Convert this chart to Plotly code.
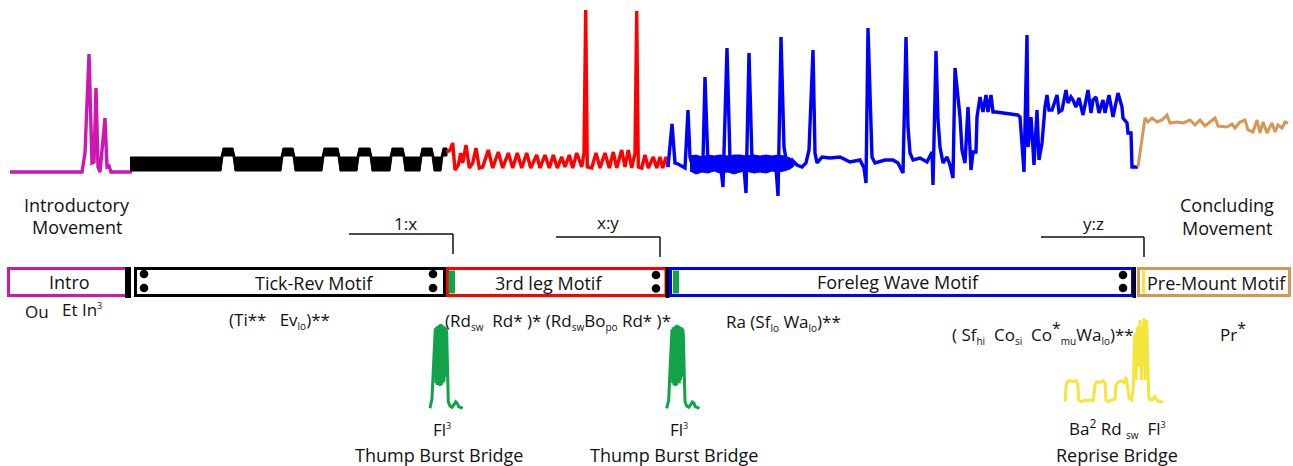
import plotly.graph_objects as go

# ---------------- DATA ----------------
# top recording: time in frames, level in arbitrary units (up = larger)
intro_t = [10, 82, 85, 89, 92, 94, 96, 98, 100, 105, 107, 109, 111, 132]
intro_v = [8, 8, 27, 126, 17, 18, 92, 13, 8, 62, 13, 14, 8, 8]

# Tick-Rev: dense ticking shown as an envelope (upper / lower)
tick_t = [130, 221, 223, 233, 235, 281, 283, 293, 295, 322, 324, 338, 340, 357,
          359, 370, 372, 390, 392, 403, 405, 420, 422, 432, 434, 441, 443, 447]
tick_hi = [23, 23, 32, 32, 23, 23, 32, 32, 23, 23, 32, 32, 23, 23,
           32, 32, 23, 23, 32, 32, 23, 23, 32, 32, 23, 23, 32, 32]
tick_lo = [9, 9, 24, 24, 9, 9, 24, 24, 9, 9, 24, 24, 9, 9,
           24, 24, 9, 9, 24, 24, 9, 9, 24, 24, 9, 9, 24, 24]

leg3_t = [446.7, 450, 452.7, 455, 458.3, 460.7, 462.7, 466, 469.3, 472.7, 476, 479.3,
          482.7, 488.3, 492.7, 498.3, 502.7, 508.3, 512.7, 517.3, 521.7, 526.7, 530.7,
          536.7, 540, 545, 549.3, 553.3, 557.3, 561.7, 565, 569.3, 572.7, 576.7, 581.7,
          584, 585.7, 587.3, 591.7, 596, 600, 605, 609.3, 613.3, 616.7, 621.7, 625,
          628.3, 631.7, 635, 636.7, 638.3, 641.7, 645, 648.3, 653.3, 656.7, 660, 662.7,
          666, 668.3]
leg3_v = [28, 30, 37, 10, 15, 27, 17, 35, 12, 17, 32, 12,
          13, 30, 12, 28, 12, 27, 12, 27, 12, 27, 12,
          25, 12, 25, 12, 25, 12, 23, 13, 25, 12, 27, 13,
          27, 170, 13, 12, 27, 12, 27, 12, 28, 12, 30, 13,
          30, 12, 27, 169, 13, 12, 25, 12, 23, 12, 23, 12,
          23, 13]

fore_t = [668, 672, 675, 678, 685, 688, 690, 693, 697, 700, 703, 705, 708, 712, 716,
          720, 723, 727, 730, 735, 740, 744, 746, 749, 752, 756, 762, 768, 773, 776,
          778, 781, 784, 787, 792, 797, 802, 806, 809, 813, 815, 817, 822, 830, 840,
          850, 860, 864, 866, 868, 872, 875, 885, 893, 898, 903, 906, 908, 910, 913,
          920, 927, 932, 933, 936, 938, 940, 943, 947, 950, 953, 955, 960, 962, 965,
          968, 971, 973, 976, 977, 980, 983, 986, 988, 991, 993, 996, 1005, 1018,
          1020, 1022, 1024, 1027, 1028, 1031, 1034, 1037, 1039, 1042, 1045, 1047,
          1049, 1052, 1057, 1059, 1062, 1066, 1068, 1071, 1073, 1076, 1079, 1083,
          1088, 1091, 1093, 1096, 1099, 1103, 1105, 1109, 1113, 1118, 1122, 1123,
          1127, 1128, 1131, 1132, 1138]
fore_v = [13, 56, 17, 16, 12, 70, 23, 12, 20, 10, 20, 103, 15, 22, 10,
          20, -7, 132, 20, 10, 22, 12, -13, 127, 20, 12, 22, 10, 20, 12,
          -16, 143, 33, 15, 20, 15, 13, 17, 30, 130, 27, 17, 23, 22, 23,
          18, 20, 12, -3, 152, 23, 17, 20, 20, 17, 7, 143, 53, 27, 20,
          22, 18, 28, -5, 129, 60, 33, 17, 23, 15, 2, 112, 63, 30, 17,
          73, 10, 28, 28, 63, 83, 68, 85, 68, 85, 68, 68, 67, 65,
          63, 30, 8, 145, 33, 63, 15, 70, 20, 37, 73, 85,
          70, 70, 85, 68, 70, 90, 77, 83, 80, 73, 82, 65,
          90, 67, 80, 83, 67, 80, 67, 85, 63, 87, 73, 62,
          57, 47, 47, 13, 13]
# dense jitter of the foreleg section, as an envelope
fore_noise_t = [690, 696, 702, 708, 714, 720, 728, 734, 740, 746, 754, 760, 766,
                772, 778, 784, 790, 794]
fore_noise_hi = [24, 25, 23, 25, 24, 25, 24, 25, 25, 24, 25, 24, 25, 24, 25, 24, 22, 18]
fore_noise_lo = [9, 6, 8, 7, 9, 7, 8, 6, 8, 9, 7, 8, 7, 9, 8, 9, 11, 14]

pre_t = [1138, 1145, 1148, 1152, 1157, 1162, 1167, 1170, 1177, 1183, 1190, 1195,
         1200, 1205, 1210, 1215, 1218, 1227, 1232, 1235, 1240, 1245, 1248, 1253,
         1257, 1260, 1263, 1267, 1272, 1275, 1278, 1282, 1285, 1288]
pre_v = [13, 62, 58, 62, 58, 60, 65, 57, 58, 57, 60, 55,
         60, 54, 58, 62, 54, 53, 56, 52, 58, 60, 50, 48,
         60, 47, 58, 47, 57, 48, 55, 52, 58, 57]

# bridge recordings (second level scale)
thump1_t = [430.0, 432.0, 433.3, 434.3, 435.0, 435.3, 436.0, 436.7, 437.3, 438.0, 438.7,
            439.3, 440.0, 440.7, 441.3, 442.0, 442.7, 443.3, 444.0, 444.7, 445.3, 446.0,
            446.7, 447.7, 448.3, 450.0, 452.0, 454.0, 455.7, 457.3, 458.7, 460.7, 462.7]
thump1_v = [1.7, 11.7, 40, 60, 61.7, 81.7, 26.7, 83.3, 25, 84, 25,
            85, 24, 86, 25, 85, 26.7, 84, 28.3, 83.3, 33.3, 81.7,
            76.7, 36.7, 8.3, 4, 2.7, 5.3, 8.3, 6.7, 3.3, 2.7, 1.7]
thump2_t = [666.7, 668.7, 670.0, 671.0, 671.7, 672.0, 672.7, 673.3, 674.0, 674.7, 675.3,
            676.0, 676.7, 677.3, 678.0, 678.7, 679.3, 680.0, 680.7, 681.3, 682.0, 682.7,
            683.3, 684.3, 685.0, 686.7, 688.7, 690.7, 692.3, 694.0, 695.3, 697.3, 699.3]
thump2_v = [1.7, 10, 40, 60, 63.3, 80.7, 26.7, 82.7, 25, 83.3, 24,
            84.7, 25, 85.3, 26.7, 84, 26.7, 83.3, 30, 82.7, 33.3, 81.3,
            76.7, 35, 8.3, 4, 2.7, 5.3, 8, 6.7, 3.3, 2.7, 1.7]
reprise_t = [1065, 1066, 1067.3, 1070, 1073.3, 1076, 1077.7, 1078.7, 1081.7, 1085, 1087.3,
             1090, 1093.3, 1095, 1096.7, 1100, 1102.7, 1105, 1106, 1108.3, 1111.7, 1115,
             1116, 1118.3, 1121.7, 1124, 1126, 1127.3, 1129.3, 1131.7, 1133.3, 1134.3,
             1135.3, 1136, 1137.3, 1138.7, 1140, 1141.3, 1142.7, 1144, 1145.3, 1146.7,
             1147.7, 1148.7, 1150, 1152.7, 1155, 1157.3, 1160, 1163.3]
reprise_v = [8.3, 23.3, 28.3, 29.3, 28.3, 29.3, 26.7, 10, 8.3, 10, 9,
             10, 9.3, 25, 28.3, 27.3, 29.3, 27.3, 10, 8.3, 10, 10.7,
             25, 28.3, 29.3, 27.3, 32.7, 23.3, 11.7, 10, 23.3, 70,
             76.7, 30, 83.3, 43.3, 90, 30, 76.7, 91.7, 30, 90,
             43.3, 13.3, 10, 10.7, 13.3, 9.3, 8.3, 8.3]

# ---------------- STYLE / LAYOUT ----------------
MAGENTA = "#cc18b0"
BLACK = "#000000"
RED = "#ff0000"
BLUE = "#0000ff"
TAN = "#d69656"
GREEN = "#11a24a"
YELLOW = "#f2e63c"
INK = "#111111"
FONT = "Open Sans"

fig = go.Figure()


def line(t, v, color, axis="y", width=3.4):
    fig.add_trace(go.Scatter(x=t, y=v, mode="lines", yaxis=axis,
                             line=dict(color=color, width=width),
                             hoverinfo="skip", showlegend=False))


def band(t, hi, lo, color, axis="y"):
    fig.add_trace(go.Scatter(x=list(t) + list(t)[::-1], y=list(hi) + list(lo)[::-1],
                             mode="lines", fill="toself", fillcolor=color, yaxis=axis,
                             line=dict(color=color, width=1),
                             hoverinfo="skip", showlegend=False))


line(intro_t, intro_v, MAGENTA)
band(tick_t, tick_hi, tick_lo, BLACK)
line(leg3_t, leg3_v, RED)
band(fore_noise_t, fore_noise_hi, fore_noise_lo, BLUE)
line(fore_t, fore_v, BLUE)
line(pre_t, pre_v, TAN, width=3)
line(thump1_t, thump1_v, GREEN, axis="y2", width=3)
line(thump2_t, thump2_v, GREEN, axis="y2", width=3)
line(reprise_t, reprise_v, YELLOW, axis="y2", width=3)

shapes = []


def rect(x0, x1, y0, y1, color, fill=None, width=3):
    shapes.append(dict(type="rect", xref="x", yref="y3", x0=x0, x1=x1, y0=y0, y1=y1,
                       line=dict(color=color, width=0 if fill else width),
                       fillcolor=fill if fill else "rgba(0,0,0,0)"))


def seg(x0, y0, x1, y1, color=INK, width=1.5):
    shapes.append(dict(type="line", xref="x", yref="y3", x0=x0, y0=y0, x1=x1, y1=y1,
                       line=dict(color=color, width=width)))


def dot(x, y, r=4.3):
    shapes.append(dict(type="circle", xref="x", yref="y3", x0=x - r, x1=x + r,
                       y0=y - r, y1=y + r, line=dict(width=0), fillcolor=BLACK))


# motif boxes
rect(8.5, 127, 268.5, 295.5, MAGENTA)
rect(125, 131, 267, 298, BLACK, fill=BLACK)
rect(135.5, 444.5, 268.5, 295.5, BLACK)
rect(447.5, 666, 268.5, 295.5, RED)
rect(665.5, 669.5, 267, 298, BLACK, fill=BLACK)
rect(670.5, 1132.5, 268.5, 295.5, BLUE)
rect(1138.5, 1289.5, 268.5, 295.5, TAN)
rect(1132.5, 1136, 267, 298, BLACK, fill=BLACK)
rect(448.5, 455, 270.5, 293.5, GREEN, fill=GREEN)
rect(673, 679, 270.5, 293.5, GREEN, fill=GREEN)
rect(1142, 1145, 270.5, 293.5, YELLOW, fill=YELLOW)
for cx, cy in [(144, 274), (144, 288), (433, 274), (433, 288),
               (656, 275), (656, 288.5), (1123, 275), (1123, 288)]:
    dot(cx, cy)

# transition brackets
seg(349, 234, 453, 234)
seg(453, 234, 453, 254)
seg(556, 237, 660, 237)
seg(660, 237, 660, 257)
seg(1041, 237, 1144, 237)
seg(1144, 237, 1144, 257)


def label(x, y, text, size=18):
    fig.add_annotation(x=x, y=y, xref="x", yref="y3", text=text, showarrow=False,
                       font=dict(family=FONT, size=size, color=INK),
                       xanchor="center", yanchor="middle")


def sub(s):
    return "<sub><span style='font-size:10px'>" + s + "</span></sub>"


def sup(s, size=10):
    return "<sup><span style='font-size:%dpx'>" % size + s + "</span></sup>"


label(77, 205, "Introductory")
label(77, 227, "Movement")
label(1227, 205, "Concluding")
label(1227, 228, "Movement")
label(405, 223, "1:x", 17)
label(608, 222, "x:y", 17)
label(1093, 223, "y:z", 17)

label(69, 282, "Intro")
label(314, 283, "Tick-Rev Motif")
label(548, 283, "3rd leg Motif")
label(898, 282, "Foreleg Wave Motif")
label(1216, 283, "Pre-Mount Motif")

label(37, 311, "Ou", 17)
label(82, 309, "Et In" + sup("3", 9), 17)
label(279, 320, "(Ti**&nbsp;&nbsp; Ev" + sub("lo") + ")**", 17)
label(558, 321, "(Rd" + sub("sw") + "&nbsp; Rd* )* (Rd" + sub("sw") + "Bo" + sub("po")
      + " Rd* )*", 17)
label(783, 322, "Ra (Sf" + sub("lo") + " Wa" + sub("lo") + ")**", 17)
label(1043, 332, "( Sf" + sub("hi") + "&nbsp; Co" + sub("si") + "&nbsp; Co"
      + sup("*", 16) + sub("mu") + "Wa" + sub("lo") + ")**", 17)
label(1233, 331, "Pr" + sup("*", 16), 17)

label(442, 429, "Fl" + sup("3", 9), 17)
label(439, 455, "Thump Burst Bridge", 18)
label(679, 429, "Fl" + sup("3", 9), 17)
label(674, 455, "Thump Burst Bridge", 18)
label(1117, 428, "Ba" + sup("2", 12) + " Rd " + sub("sw") + "&nbsp; Fl" + sup("3", 9), 17)
label(1117, 455, "Reprise Bridge", 18)

fig.update_layout(
    width=1293, height=466, autosize=False,
    margin=dict(l=0, r=0, t=0, b=0),
    paper_bgcolor="white", plot_bgcolor="white",
    xaxis=dict(range=[0, 1293], visible=False, fixedrange=True),
    yaxis=dict(range=[-286, 180], visible=False, fixedrange=True),
    yaxis2=dict(range=[-56, 410], visible=False, overlaying="y", fixedrange=True),
    yaxis3=dict(range=[466, 0], visible=False, overlaying="y", fixedrange=True),
    shapes=shapes,
    showlegend=False,
)
# invisible trace to activate the layout axis
fig.add_trace(go.Scatter(x=[0], y=[0], yaxis="y3", mode="markers",
                         marker=dict(opacity=0), hoverinfo="skip", showlegend=False))

fig.write_html("out.html", config={"displayModeBar": False},
               post_script="document.body.style.margin='0px';"
                           "document.body.style.overflow='hidden';")
